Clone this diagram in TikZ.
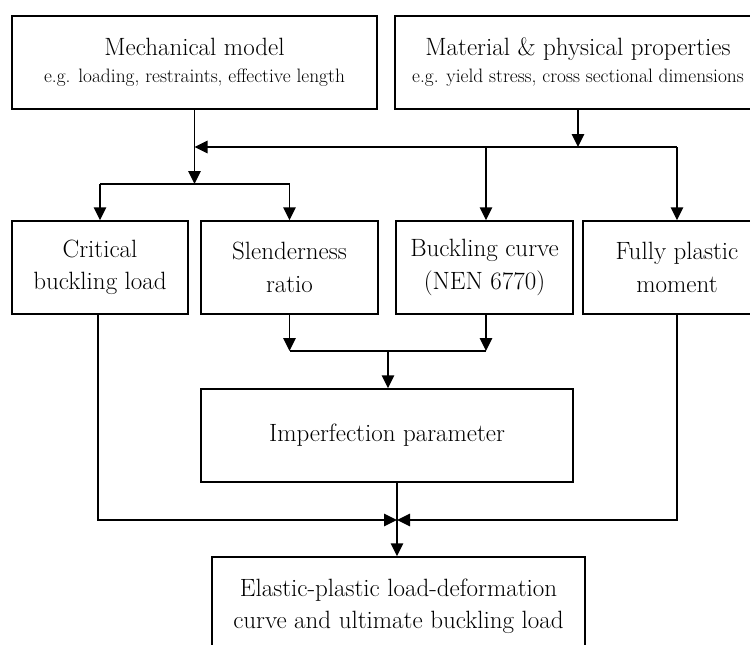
\documentclass[tikz,border=0pt]{standalone}
\usepackage{fontspec}
\usetikzlibrary{arrows.meta}
\tikzset{
  box/.style={draw, line width=1.5pt, inner sep=0pt, align=center, font=\fontsize{25}{32.5}\selectfont},
  conn/.style={line width=1.5pt},
  arr/.style={conn, -{Triangle[length=13pt,width=12.5pt]}},
}
\newcommand{\subtxt}[1]{{\fontsize{19.4}{20}\selectfont #1}}
\begin{document}
\begin{tikzpicture}[x=1pt,y=-1pt]
\useasboundingbox (0,0) rectangle (750,645);
\clip (0,0) rectangle (750,645);
% boxes
\node[box, minimum width=365pt, minimum height=93pt] (mech) at (194.5,62.5)
  {Mechanical model\\[-5.5pt]\subtxt{e.g. loading, restraints, effective length}};
\node[box, minimum width=366pt, minimum height=93pt] (mat) at (578,62.5)
  {Material \& physical properties\\[-5.5pt]\subtxt{e.g. yield stress, cross sectional dimensions}};
\node[box, minimum width=176pt, minimum height=93pt] (crit) at (100,267.5)
  {Critical\\buckling load};
\node[box, minimum width=177pt, minimum height=93pt] (slen) at (289.5,267.5)
  {Slenderness\\ratio};
\node[box, minimum width=177pt, minimum height=93pt] (buck) at (484.5,267.5)
  {Buckling curve\\(NEN 6770)};
\node[box, minimum width=188pt, minimum height=93pt] (full) at (677,267.5)
  {Fully plastic\\moment};
\node[box, minimum width=372pt, minimum height=93pt] (imp) at (387,435.5)
  {Imperfection parameter};
\node[box, minimum width=373pt, minimum height=99pt] (res) at (398.5,606.5)
  {Elastic-plastic load-deformation\\curve and ultimate buckling load};
% junction coordinates
\coordinate (j1) at (194.5,147);
\coordinate (j2) at (194.5,184);
\coordinate (j3) at (486,351);
\coordinate (j4) at (388,351);
\coordinate (j5) at (397,520);
% top connections
\draw[arr] (mech.south) -- (j2 -| mech.south);
\draw[conn] (crit.north |- j2) -- (slen.north |- j2);
\draw[arr] (crit.north |- j2) -- (crit.north);
\draw[arr] (slen.north |- j2) -- (slen.north);
\draw[arr] (mat.south) -- (mat.south |- j1);
\draw[arr] (full.north |- j1) -- (j1);
\draw[arr] (j3 |- j1) -- (j3 |- buck.north);
\draw[arr] (full.north |- j1) -- (full.north);
% middle
\draw[arr] (slen.south) -- (slen.south |- j3);
\draw[arr] (j3 |- buck.south) -- (j3);
\draw[conn] (slen.south |- j3) -- (j3);
\draw[arr] (j4) -- (j4 |- imp.north);
% bottom
\draw[arr] (imp.south -| j5) -- (res.north -| j5);
\draw[arr] (crit.south -| 98,0) |- (j5);
\draw[arr] (full.south) |- (j5);
\end{tikzpicture}
\end{document}
